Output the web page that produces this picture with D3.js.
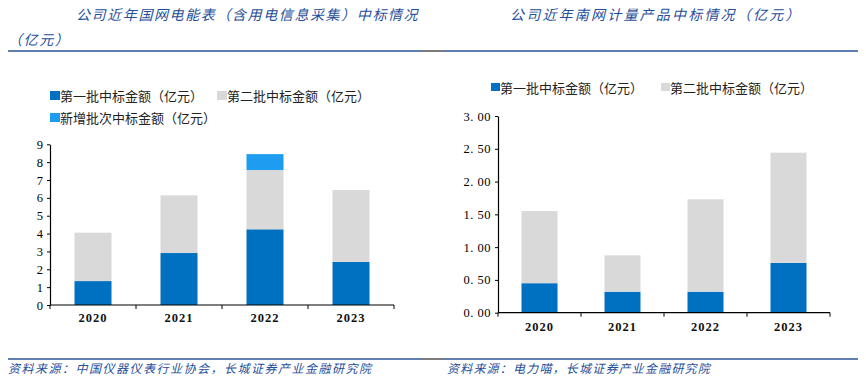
<!DOCTYPE html>
<html><head><meta charset="utf-8">
<script src="https://cdn.jsdelivr.net/npm/d3@7"></script>
<style>
body{margin:0;background:#fff;}
svg text{font-family:"Noto Sans CJK SC",sans-serif;}
svg text.num{font-family:"Liberation Serif","Times New Roman",serif;}
</style></head>
<body><svg id="c" width="866" height="383"></svg>
<script>
const years = ["2020","2021","2022","2023"];
// Left chart: State Grid (亿元)
const sgFirst = [1.34, 2.91, 4.24, 2.41];
const sgSecond = [2.71, 3.23, 3.32, 4.03];
const sgNew = [0, 0, 0.89, 0];
const sgTicks = [0,1,2,3,4,5,6,7,8,9];
// Right chart: Southern Grid (亿元)
const cgFirst = [0.45, 0.32, 0.32, 0.76];
const cgSecond = [1.10, 0.555, 1.41, 1.68];
const cgTicks = [0,0.5,1,1.5,2,2.5,3];

const C1 = "#0070c0", C2 = "#d9d9d9", C3 = "#1e9cf0";
const titleColor = "#1f4e9a";
const svg = d3.select("#c");

// Titles
svg.append("text").attr("x",76).attr("y",20).attr("font-size",14).attr("font-style","italic")
  .attr("fill",titleColor).attr("letter-spacing",1.6).text("公司近年国网电能表（含用电信息采集）中标情况");
svg.append("text").attr("x",8).attr("y",45).attr("font-size",14).attr("font-style","italic")
  .attr("fill",titleColor).attr("letter-spacing",1.6).text("（亿元）");
svg.append("text").attr("x",510).attr("y",20).attr("font-size",14).attr("font-style","italic")
  .attr("fill",titleColor).attr("letter-spacing",2.2).text("公司近年南网计量产品中标情况（亿元）");

// separators
function sep(y){
  svg.append("line").attr("x1",8).attr("x2",421).attr("y1",y).attr("y2",y).attr("stroke","#2e5597").attr("stroke-width",1.3);
  svg.append("line").attr("x1",421).attr("x2",444).attr("y1",y).attr("y2",y).attr("stroke","#333").attr("stroke-width",1.3);
  svg.append("line").attr("x1",444).attr("x2",858).attr("y1",y).attr("y2",y).attr("stroke","#2e5597").attr("stroke-width",1.3);
}
sep(51); sep(359);

svg.append("text").attr("x",8).attr("y",373).attr("font-size",12).attr("font-style","italic")
  .attr("fill",titleColor).attr("letter-spacing",1.5).text("资料来源：中国仪器仪表行业协会，长城证券产业金融研究院");
svg.append("text").attr("x",447).attr("y",373).attr("font-size",12).attr("font-style","italic")
  .attr("fill",titleColor).attr("letter-spacing",1.2).text("资料来源：电力喵，长城证券产业金融研究院");

// legend helper
function legend(x,y,color,label,size){
  svg.append("rect").attr("x",x).attr("y",y-5).attr("width",size).attr("height",size-1).attr("fill",color);
  svg.append("text").attr("x",x+size).attr("y",y+5).attr("font-size",13).attr("fill","#222").text(label);
}
legend(50,96,C1,"第一批中标金额（亿元）",10);
legend(217,96,C2,"第二批中标金额（亿元）",10);
legend(50,118,C3,"新增批次中标金额（亿元）",10);
legend(491,88,C1,"第一批中标金额（亿元）",9);
legend(661,88,C2,"第二批中标金额（亿元）",9);

function chart(opts){
  const {x0,x1,yTop,yBot,max,ticks,fmt,series,colors,barW,labelY,tickLetter} = opts;
  const x = d3.scaleBand().domain(years).range([x0,x1]);
  const y = d3.scaleLinear().domain([0,max]).range([yBot,yTop]);
  const stack = d3.stack().keys(series.map((s,i)=>i))(years.map((yr,j)=>{const o={};series.forEach((s,i)=>o[i]=s[j]);return o;}));
  const g = svg.append("g");
  stack.forEach((layer,i)=>{
    g.selectAll(null).data(layer).enter().append("rect")
      .attr("x",(d,j)=>x(years[j])+x.bandwidth()/2-barW/2)
      .attr("width",barW)
      .attr("y",d=>y(d[1]))
      .attr("height",d=>Math.max(0,y(d[0])-y(d[1])))
      .attr("fill",colors[i]);
  });
  // y axis
  const ya = g.append("g").attr("transform",`translate(${x0},0)`)
    .call(d3.axisLeft(y).tickValues(ticks).tickFormat(fmt).tickSize(3).tickSizeOuter(0));
  ya.select(".domain").attr("stroke","#000").attr("stroke-width",1.2);
  ya.selectAll(".tick line").attr("stroke","#000");
  ya.selectAll("text").attr("class","num").attr("font-size",12.5).attr("fill","#000")
    .attr("letter-spacing",tickLetter).attr("x",-7);
  // x axis
  const xa = g.append("g").attr("transform",`translate(0,${yBot})`);
  xa.append("line").attr("x1",x0).attr("x2",x1).attr("stroke","#000").attr("stroke-width",1.2);
  const bounds = years.map(d=>x(d)).concat([x1]);
  xa.selectAll(null).data(bounds).enter().append("line")
    .attr("x1",d=>d).attr("x2",d=>d).attr("y1",0).attr("y2",4).attr("stroke","#000");
  xa.selectAll(null).data(years).enter().append("text").attr("class","num")
    .attr("x",d=>x(d)+x.bandwidth()/2).attr("y",labelY).attr("text-anchor","middle")
    .attr("font-size",12.5).attr("font-weight","bold").attr("fill","#111")
    .attr("letter-spacing",1).text(d=>d);
}
chart({x0:50,x1:394,yTop:144.3,yBot:305,max:9,ticks:sgTicks,fmt:d3.format("d"),
  series:[sgFirst,sgSecond,sgNew],colors:[C1,C2,C3],barW:37,labelY:17,tickLetter:0});
chart({x0:498,x1:830,yTop:116,yBot:312.7,max:3,ticks:cgTicks,fmt:d=>d3.format(".2f")(d).replace(".",". "),
  series:[cgFirst,cgSecond],colors:[C1,C2],barW:36,labelY:18,tickLetter:0.5});
</script></body></html>
